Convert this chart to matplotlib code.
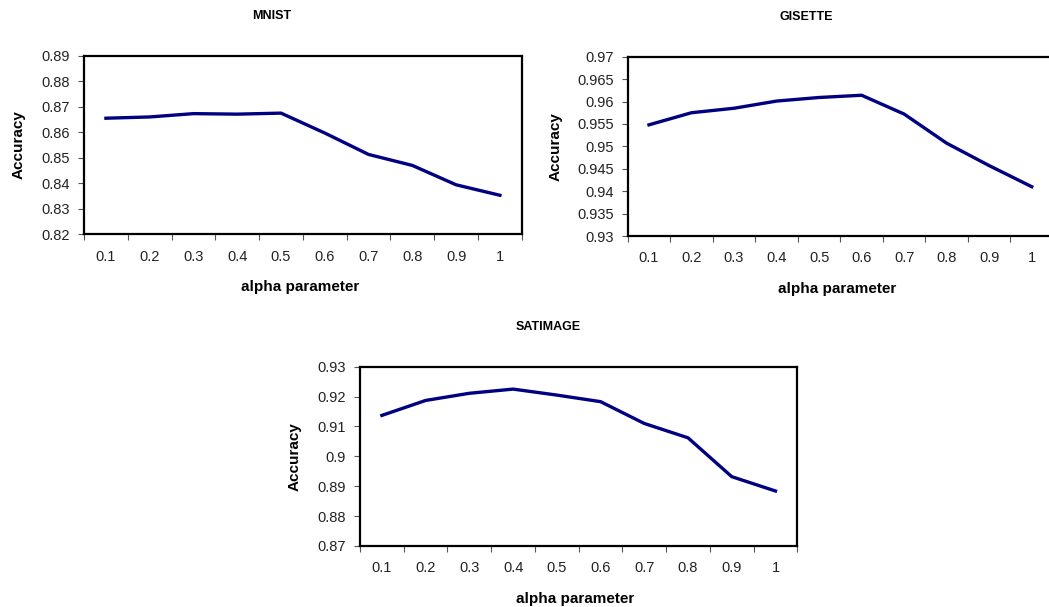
import numpy as np
import matplotlib
matplotlib.use('Agg')
import matplotlib.pyplot as plt
from matplotlib.ticker import FixedLocator, NullFormatter

plt.rcParams['font.family'] = ['Liberation Sans', 'DejaVu Sans']

alpha = ['0.1', '0.2', '0.3', '0.4', '0.5', '0.6', '0.7', '0.8', '0.9', '1']

mnist = [0.8655, 0.8660, 0.8673, 0.8671, 0.8675, 0.8597, 0.8513, 0.8470, 0.8394, 0.8353]
gisette = [0.9548, 0.9575, 0.9585, 0.9601, 0.9609, 0.9614, 0.9572, 0.9507, 0.9457, 0.9410]
satimage = [0.9137, 0.9187, 0.9211, 0.9225, 0.9205, 0.9183, 0.9110, 0.9062, 0.8932, 0.8884]

mnist_ticks = [0.82, 0.83, 0.84, 0.85, 0.86, 0.87, 0.88, 0.89]
mnist_labels = ['0.82', '0.83', '0.84', '0.85', '0.86', '0.87', '0.88', '0.89']
gisette_ticks = [0.93, 0.935, 0.94, 0.945, 0.95, 0.955, 0.96, 0.965, 0.97]
gisette_labels = ['0.93', '0.935', '0.94', '0.945', '0.95', '0.955', '0.96', '0.965', '0.97']
sat_ticks = [0.87, 0.88, 0.89, 0.90, 0.91, 0.92, 0.93]
sat_labels = ['0.87', '0.88', '0.89', '0.9', '0.91', '0.92', '0.93']

fig = plt.figure(figsize=(10.49, 6.07), dpi=100)

def excel_panel(rect, values, yticks, ylabels, title, title_xy, ylab_x):
    ax = fig.add_axes(rect)
    x = np.arange(len(alpha))
    ax.plot(x, values, color='#000080', linewidth=2.4, solid_joinstyle='round')
    ax.set_xlim(-0.5, len(alpha) - 0.5)
    ax.set_ylim(yticks[0], yticks[-1])
    # category labels at centres, tick marks between categories
    ax.set_xticks(x)
    ax.set_xticklabels(alpha, fontsize=10.5, color='#222222')
    ax.xaxis.set_minor_locator(FixedLocator(np.arange(-0.5, len(alpha), 1.0)))
    ax.xaxis.set_minor_formatter(NullFormatter())
    ax.tick_params(axis='x', which='major', length=0, pad=11)
    ax.tick_params(axis='x', which='minor', length=4, width=0.8, direction='out', color='#555555')
    ax.set_yticks(yticks)
    ax.set_yticklabels(ylabels, fontsize=10.5, color='#222222')
    ax.tick_params(axis='y', length=4, width=0.8, direction='out', pad=6, color='#555555')
    for s in ax.spines.values():
        s.set_linewidth(1.6)
        s.set_color('black')
    ax.set_ylabel('Accuracy', fontsize=11, fontweight='bold', va='center')
    ax.yaxis.set_label_coords(ylab_x, 0.5)
    ax.set_xlabel('alpha parameter', fontsize=11, fontweight='bold', va='center')
    ax.xaxis.set_label_coords(0.493, -0.295)
    fig.text(title_xy[0], title_xy[1], title, fontsize=9, fontweight='bold',
             ha='center', va='center')
    return ax

excel_panel([0.0801, 0.614, 0.4173, 0.2942], mnist, mnist_ticks, mnist_labels,
            'MNIST', (272 / 1049, 1 - 16 / 607), -0.1485)
excel_panel([0.5984, 0.6112, 0.4054, 0.2954], gisette, gisette_ticks, gisette_labels,
            'GISETTE', (806 / 1049, 1 - 17 / 607), -0.169)
excel_panel([0.3432, 0.1005, 0.4169, 0.2954], satimage, sat_ticks, sat_labels,
            'SATIMAGE', (548 / 1049, 1 - 327 / 607), -0.1486)

fig.savefig('out.png', dpi=100)
